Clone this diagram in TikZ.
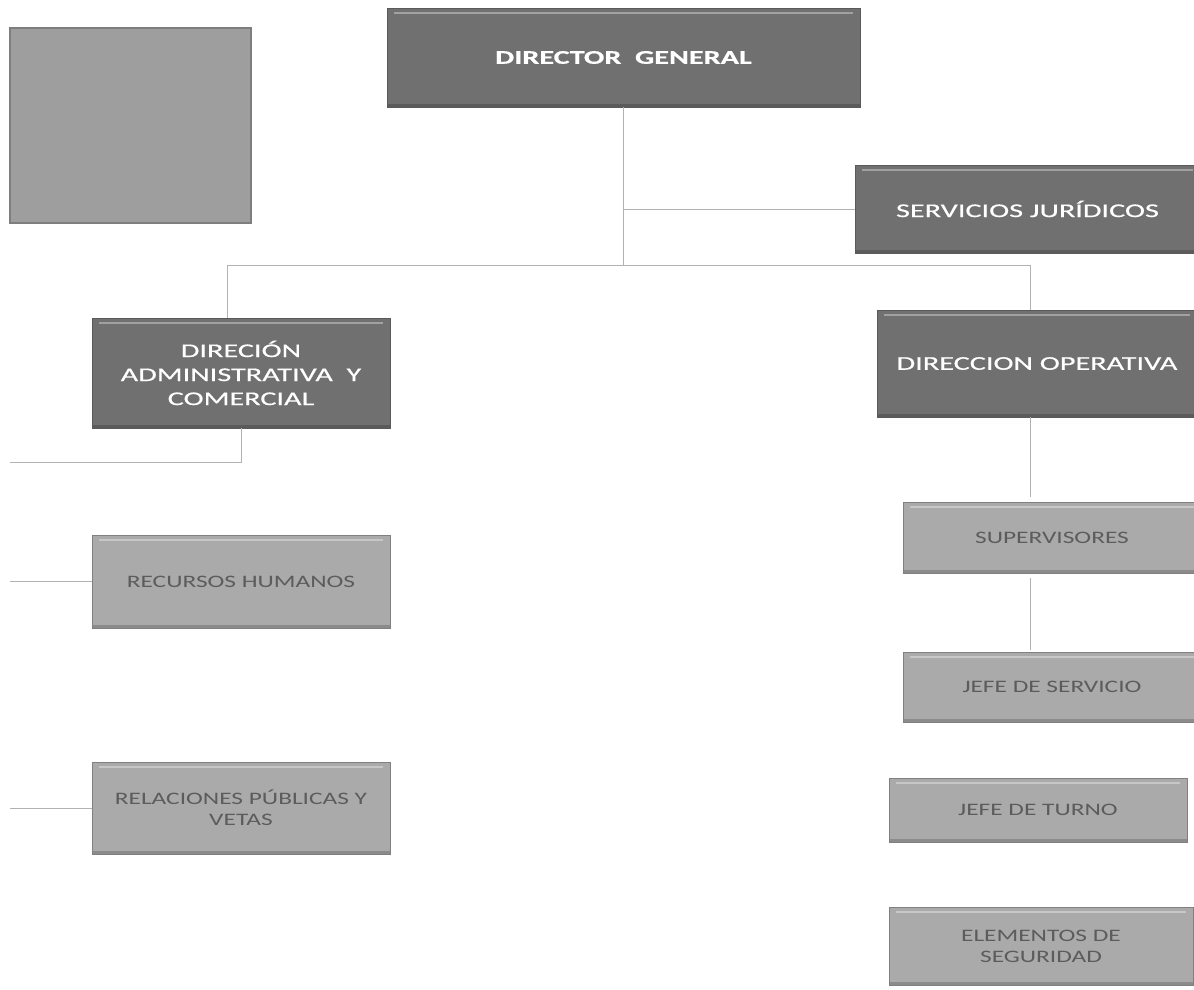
\documentclass[tikz,border=0pt]{standalone}
\usepackage{fontspec}
\setmainfont[FakeStretch=1.45]{Carlito}
\newfontfamily\jefefont[FakeStretch=1.55, FakeBold=0.5]{Carlito}
\usetikzlibrary{positioning}

\definecolor{grisjefe}{RGB}{112,112,112}
\definecolor{grisarea}{RGB}{170,170,170}
\definecolor{grislogo}{RGB}{158,158,158}
\definecolor{grislinea}{RGB}{178,178,178}

\tikzset{
  bevel/.style={path picture={
    \draw[white, opacity=0.35, line width=2pt]
      ([xshift=7pt, yshift=-5pt]path picture bounding box.north west) --
      ([xshift=-7pt, yshift=-5pt]path picture bounding box.north east);
    \draw[black, opacity=0.18, line width=3pt]
      ([yshift=1.5pt]path picture bounding box.south west) --
      ([yshift=1.5pt]path picture bounding box.south east);}},
  jefe/.style={rectangle, fill=grisjefe, draw=grisjefe!80!black, line width=1pt,
    text=white, align=center, inner sep=0pt, outer sep=0pt,
    font=\jefefont\fontsize{19.5}{24}\selectfont, bevel},
  area/.style={rectangle, fill=grisarea, draw=grisarea!75!black, line width=1pt,
    text=black!64, align=center, inner sep=0pt, outer sep=0pt,
    minimum width=298pt, font=\fontsize{17.5}{21}\selectfont, bevel},
  logo/.style={rectangle, fill=grislogo, draw=grislogo!80!black, line width=1.2pt,
    minimum width=241pt, minimum height=195pt, inner sep=0pt, outer sep=0pt},
  link/.style={draw=grislinea, line width=1pt}
}

\begin{document}
\begin{tikzpicture}[x=1pt, y=-1pt]
\useasboundingbox (0,0) rectangle (1194,989);
\fill[white] (0,0) rectangle (1194,989);

\node[logo] (logo) at (130.5,125.5) {};
\node[jefe, minimum width=473pt, minimum height=99pt, font=\jefefont\fontsize{19.5}{24}\selectfont\bfseries] (director) at (623.5,57.5) {DIRECTOR\ \ GENERAL};
\node[jefe, minimum width=345pt, minimum height=88pt] (juridicos) at (1027.5,209) {SERVICIOS JURÍDICOS};
\node[jefe, minimum width=298pt, minimum height=110pt] (admin) at (241,373) {DIRECIÓN\\ADMINISTRATIVA\ \ Y\\COMERCIAL};
\node[jefe, minimum width=320pt, minimum height=107pt] (operativa) at (1037,363.5) {DIRECCION OPERATIVA};

\node[area, minimum height=93pt, below=107pt of admin] (rrhh) {RECURSOS HUMANOS};
\node[area, minimum height=92pt, below=134pt of rrhh] (publicas) {RELACIONES PÚBLICAS Y\\VETAS};

\node[area, minimum height=71pt] (supervisores) at (1052,537.5) {SUPERVISORES};
\node[area, minimum height=70pt, below=79pt of supervisores] (servicio) {JEFE DE SERVICIO};
\node[area, minimum height=64pt] (turno) at (1038,810) {JEFE DE TURNO};
\node[area, minimum height=78pt, minimum width=304pt] (seguridad) at (1041,946) {ELEMENTOS DE\\SEGURIDAD};

\coordinate (hub) at (623.5,265);
\coordinate (busL) at (227,265);
\coordinate (busR) at (1030,265);
\coordinate (adminEnd) at (10,462);

\draw[link] (director.south) -- (hub);
\draw[link] (director.south |- juridicos.west) -- (juridicos.west);
\draw[link] (admin.north -| busL) -- (busL) -- (busR) -- (busR |- operativa.north);
\draw[link] (admin.south) |- (adminEnd);
\draw[link] (rrhh.west) -- (rrhh.west -| adminEnd);
\draw[link] (publicas.west) -- (publicas.west -| adminEnd);
\draw[link] (busR |- operativa.south) -- ([yshift=5pt]busR |- supervisores.north);
\draw[link] ([yshift=-5pt]busR |- supervisores.south) -- ([yshift=2pt]busR |- servicio.north);
\end{tikzpicture}
\end{document}
